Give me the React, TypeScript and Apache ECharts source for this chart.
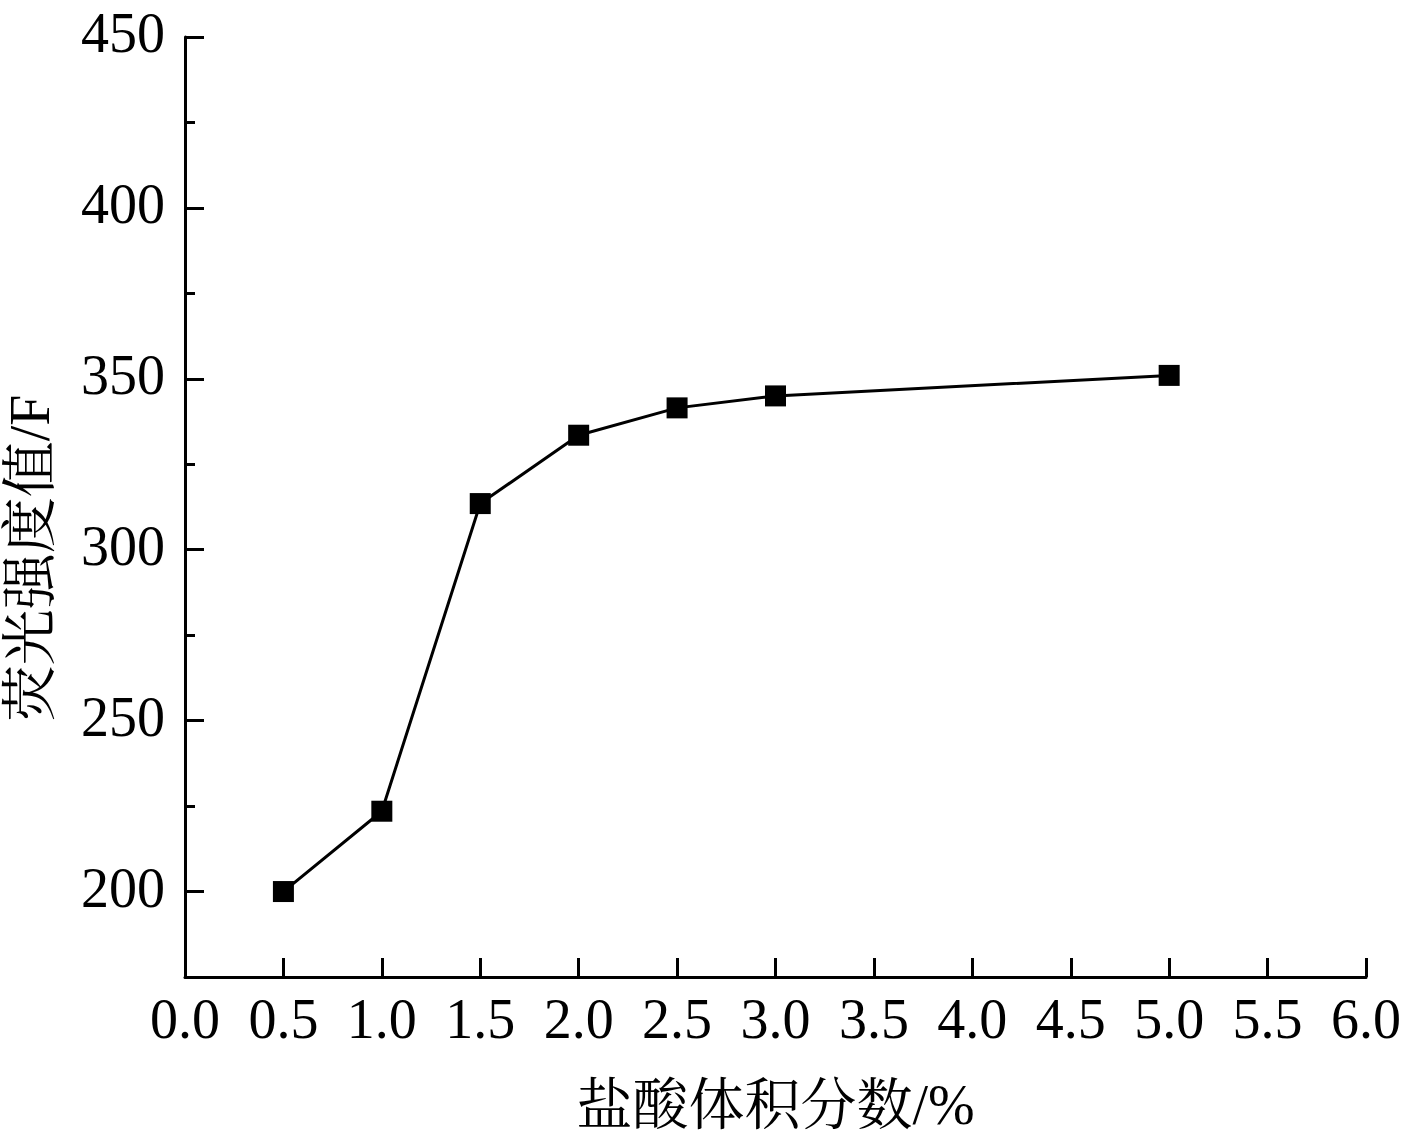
import React, { useEffect, useRef } from "react";
import * as echarts from "echarts";

const xValues = [0.5, 1.0, 1.5, 2.0, 2.5, 3.0, 5.0];
const yValues = [200, 223.5, 313.5, 333.5, 341.5, 345, 351];
const yMajorTicks = [200, 250, 300, 350, 400, 450];
const yMinorTicks = [225, 275, 325, 375, 425];
const xTitle = "盐酸体积分数/%";
const yTitle = "荧光强度值/F";

const FONT = "'Liberation Serif', 'Noto Serif CJK SC', 'Noto Sans CJK SC', serif";

export default function App() {
  const ref = useRef<HTMLDivElement>(null);
  useEffect(() => {
    if (!ref.current) return;
    const chart = echarts.init(ref.current, null, { renderer: "svg" });
    const axisLine = { show: true, lineStyle: { color: "#000", width: 3 } };
    chart.setOption({
      animation: false,
      backgroundColor: "#fff",
      grid: { left: 185, top: 37, right: 41, bottom: 155, containLabel: false },
      xAxis: {
        type: "value",
        min: 0,
        max: 6,
        interval: 0.5,
        axisLine,
        axisTick: { show: true, inside: true, length: 19, lineStyle: { color: "#000", width: 3 } },
        axisLabel: {
          color: "#000",
          fontFamily: FONT,
          fontSize: 56,
          margin: 14,
          formatter: (v: number) => v.toFixed(1),
        },
        splitLine: { show: false },
        name: xTitle,
        nameLocation: "middle",
        nameGap: 100,
        nameTextStyle: { color: "#000", fontFamily: FONT, fontSize: 56 },
      },
      yAxis: [
        {
          type: "value",
          min: 175,
          max: 450,
          axisLine,
          axisTick: {
            show: true,
            inside: true,
            length: 19,
            customValues: yMajorTicks,
            lineStyle: { color: "#000", width: 3 },
          },
          axisLabel: {
            color: "#000",
            margin: 20,
            customValues: yMajorTicks,
            formatter: (v: number) => `{a|${v}}`,
            rich: {
              a: {
                color: "#000",
                fontFamily: FONT,
                fontSize: 56,
                padding: [0, 0, 8, 0],
              },
            },
          },
          splitLine: { show: false },
        },
        {
          type: "value",
          min: 175,
          max: 450,
          position: "left",
          offset: 0,
          axisLine: { show: false },
          axisTick: {
            show: true,
            inside: true,
            length: 10,
            customValues: yMinorTicks,
            lineStyle: { color: "#000", width: 3 },
          },
          axisLabel: { show: false },
          splitLine: { show: false },
        },
      ],
      graphic: [
        {
          type: "text",
          x: 30,
          y: 558,
          rotation: Math.PI / 2,
          style: {
            text: yTitle,
            fill: "#000",
            font: `56px ${FONT}`,
            align: "center",
            verticalAlign: "middle",
          },
        },
      ],
      series: [
        {
          type: "line",
          data: xValues.map((x, i) => [x, yValues[i]]),
          symbol: "rect",
          symbolSize: 21,
          itemStyle: { color: "#000" },
          lineStyle: { color: "#000", width: 3 },
        },
      ],
    });
    return () => chart.dispose();
  }, []);
  return (
    <div
      ref={ref}
      style={{ position: "absolute", left: 0, top: 0, width: 1407, height: 1138 }}
    />
  );
}
